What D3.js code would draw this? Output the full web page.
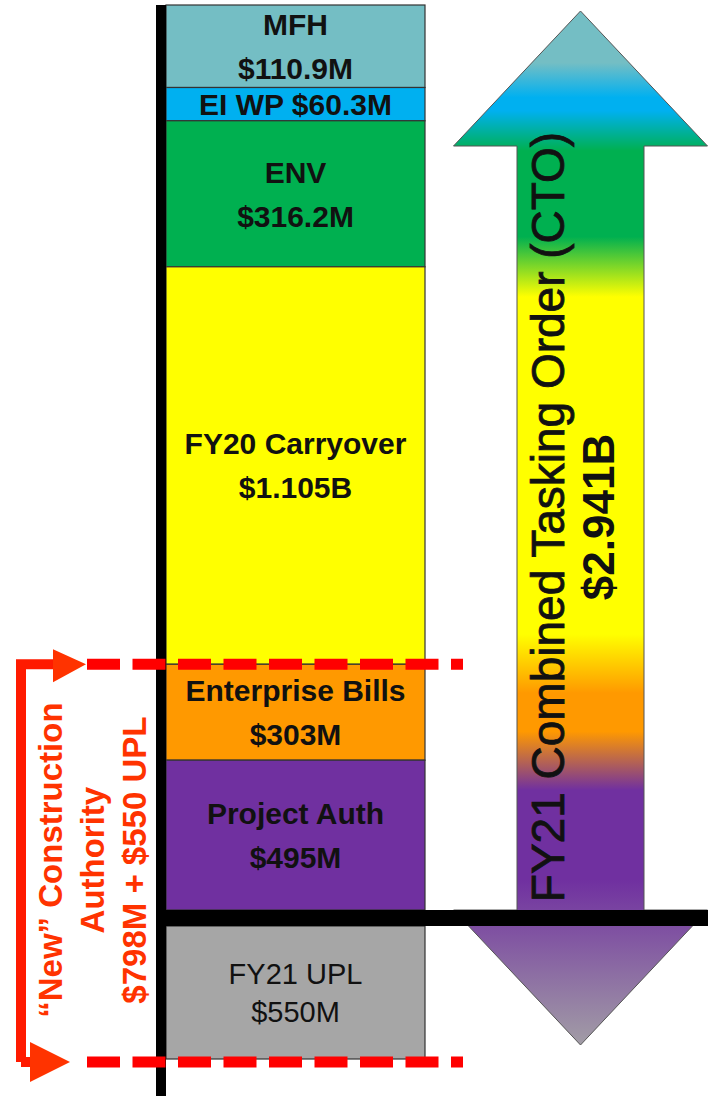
<!DOCTYPE html>
<html>
<head>
<meta charset="utf-8">
<script src="https://cdn.jsdelivr.net/npm/d3@7"></script>
<style>
  body { margin: 0; background: #fff; }
  svg { display: block; font-family: "Liberation Sans", Arial, sans-serif; }
</style>
</head>
<body>
<svg class="container"></svg>
<script>
// stacked above the baseline, listed top to bottom ($M)
const categories = ["MFH", "EI WP", "ENV", "FY20 Carryover", "Enterprise Bills", "Project Auth"];
const values = [110.9, 60.3, 316.2, 1105, 303, 495];
const barLabels = [
  ["MFH", "$110.9M"],
  ["EI WP $60.3M"],
  ["ENV", "$316.2M"],
  ["FY20 Carryover", "$1.105B"],
  ["Enterprise Bills", "$303M"],
  ["Project Auth", "$495M"]
];
const colors = ["#74bec4", "#00b0f0", "#00b050", "#ffff00", "#ff9900", "#7030a0"];

// hangs below the baseline
const belowCategory = "FY21 UPL";
const belowValue = 550;
const belowLabel = ["FY21 UPL", "$550M"];
const belowColor = "#a6a6a6";

const arrowLabel = ["FY21 Combined Tasking Order (CTO)", "$2.941B"];
const bracketLabel = ["\u201cNew\u201d Construction", "Authority", "$798M + $550 UPL"];

const width = 708;
const height = 1096;
const barLeft = 166;
const barRight = 425;
const barTop = 5;
const baseline = 910;
const baseThick = 16;
const barBottom = 1059;

const svg = d3.select(".container");
svg.attr("width", width).attr("height", height);

// the slide is not drawn to scale, a pow scale keeps the small pieces readable
const offsets = d3.cumsum([0, ...values]);
const yScale = d3
  .scalePow()
  .exponent(0.78)
  .domain([0, d3.sum(values)])
  .range([barTop, baseline]);

const yBelow = d3
  .scaleLinear()
  .domain([0, belowValue])
  .range([baseline + baseThick, barBottom]);

const segs = categories.map((c, i) => ({
  name: c,
  y0: yScale(offsets[i]),
  y1: yScale(offsets[i + 1]),
  color: colors[i],
  label: barLabels[i],
  bold: true
}));
segs.push({
  name: belowCategory,
  y0: yBelow(0),
  y1: yBelow(belowValue),
  color: belowColor,
  label: belowLabel,
  bold: false
});

// gradient for the big arrow follows the segment colours
const grad = svg
  .append("defs")
  .append("linearGradient")
  .attr("id", "cto")
  .attr("gradientUnits", "userSpaceOnUse")
  .attr("x1", 0).attr("x2", 0)
  .attr("y1", 0).attr("y2", height);
segs.forEach((s, i) => {
  const h = s.y1 - s.y0;
  if (i === segs.length - 1) {
    // last piece only tints the lower tip
    grad.append("stop").attr("offset", s.y1 / height).attr("stop-color", s.color);
    return;
  }
  const inset = Math.min(h * 0.3, 30);
  grad.append("stop").attr("offset", (s.y0 + inset) / height).attr("stop-color", s.color);
  grad.append("stop").attr("offset", (s.y1 - inset) / height).attr("stop-color", s.color);
});

svg
  .selectAll("rect.seg")
  .data(segs)
  .join("rect")
  .attr("class", "seg")
  .attr("x", barLeft)
  .attr("y", (d) => d.y0)
  .attr("width", barRight - barLeft)
  .attr("height", (d) => d.y1 - d.y0)
  .attr("fill", (d) => d.color)
  .attr("stroke", "#333")
  .attr("stroke-width", 1.2);

// labels inside the segments
const labelX = (barLeft + barRight) / 2;
segs.forEach((s) => {
  const fs = s.bold ? 30 : 29;
  const gap = s.bold ? 44 : 38;
  const mid = (s.y0 + s.y1) / 2 + fs * 0.716 / 2;
  svg
    .append("g")
    .selectAll("text")
    .data(s.label)
    .join("text")
    .attr("x", labelX)
    .attr("y", (d, j) => mid + (j - (s.label.length - 1) / 2) * gap)
    .attr("text-anchor", "middle")
    .attr("font-size", fs)
    .attr("font-weight", s.bold ? "bold" : "normal")
    .attr("fill", "#111")
    .text((d) => d);
});

// double headed arrow on the right
const cx = 580.5;
const shaftHalf = 63.5;
const headHalf = 127;
const headLen = 135;
const tipTop = barTop + 6;
const tipBottom = barBottom - 14;
const arrowPts = [
  [cx, tipTop],
  [cx + headHalf, tipTop + headLen],
  [cx + shaftHalf, tipTop + headLen],
  [cx + shaftHalf, tipBottom - headLen],
  [cx + headHalf, tipBottom - headLen],
  [cx, tipBottom],
  [cx - headHalf, tipBottom - headLen],
  [cx - shaftHalf, tipBottom - headLen],
  [cx - shaftHalf, tipTop + headLen],
  [cx - headHalf, tipTop + headLen]
];
svg
  .append("path")
  .attr("d", d3.line()(arrowPts) + "Z")
  .attr("fill", "url(#cto)")
  .attr("stroke", "#555")
  .attr("stroke-width", 1);

const arrowMid = 517;
svg
  .append("text")
  .attr("transform", `translate(564, ${arrowMid}) rotate(-90)`)
  .attr("text-anchor", "middle")
  .attr("font-size", 46)
  .attr("fill", "#111")
  .attr("stroke", "#111")
  .attr("stroke-width", 0.8)
  .text(arrowLabel[0]);
svg
  .append("text")
  .attr("transform", `translate(614, ${arrowMid}) rotate(-90)`)
  .attr("text-anchor", "middle")
  .attr("font-size", 44)
  .attr("font-weight", "bold")
  .attr("fill", "#111")
  .text(arrowLabel[1]);

// baseline and axis
svg
  .append("rect")
  .attr("x", 156)
  .attr("y", baseline)
  .attr("width", width - 156)
  .attr("height", baseThick)
  .attr("fill", "#000");
svg
  .append("rect")
  .attr("x", 156)
  .attr("y", barTop)
  .attr("width", barLeft - 156)
  .attr("height", height - barTop)
  .attr("fill", "#000");

// red dashed markers for the construction authority
const dashYs = [yScale(offsets[4]), barBottom + 3];
svg
  .selectAll("line.ca")
  .data(dashYs)
  .join("line")
  .attr("class", "ca")
  .attr("x1", 87)
  .attr("x2", 463)
  .attr("y1", (d) => d)
  .attr("y2", (d) => d)
  .attr("stroke", "#ff0000")
  .attr("stroke-width", 11)
  .attr("stroke-dasharray", "33 12.5");

const bTop = dashYs[0];
const bBot = dashYs[1];
svg
  .append("path")
  .attr("d", `M21,${bBot} V${bTop} H56 M21,${bBot} H32`)
  .attr("fill", "none")
  .attr("stroke", "#ff1a00")
  .attr("stroke-width", 10);
svg
  .append("path")
  .attr("d", `M53,${bTop - 15} L86,${bTop} L53,${bTop + 18} Z M30,${bBot - 20} L70,${bBot} L30,${bBot + 20} Z`)
  .attr("fill", "#ff3300");

const bracketMid = (bTop + bBot) / 2 - 3;
svg
  .append("g")
  .selectAll("text")
  .data(bracketLabel)
  .join("text")
  .attr("transform", (d, i) => `translate(${62 + i * 42}, ${bracketMid}) rotate(-90)`)
  .attr("text-anchor", "middle")
  .attr("font-size", 33)
  .attr("font-weight", "bold")
  .attr("fill", "#ff3300")
  .text((d) => d);
</script>
</body>
</html>
